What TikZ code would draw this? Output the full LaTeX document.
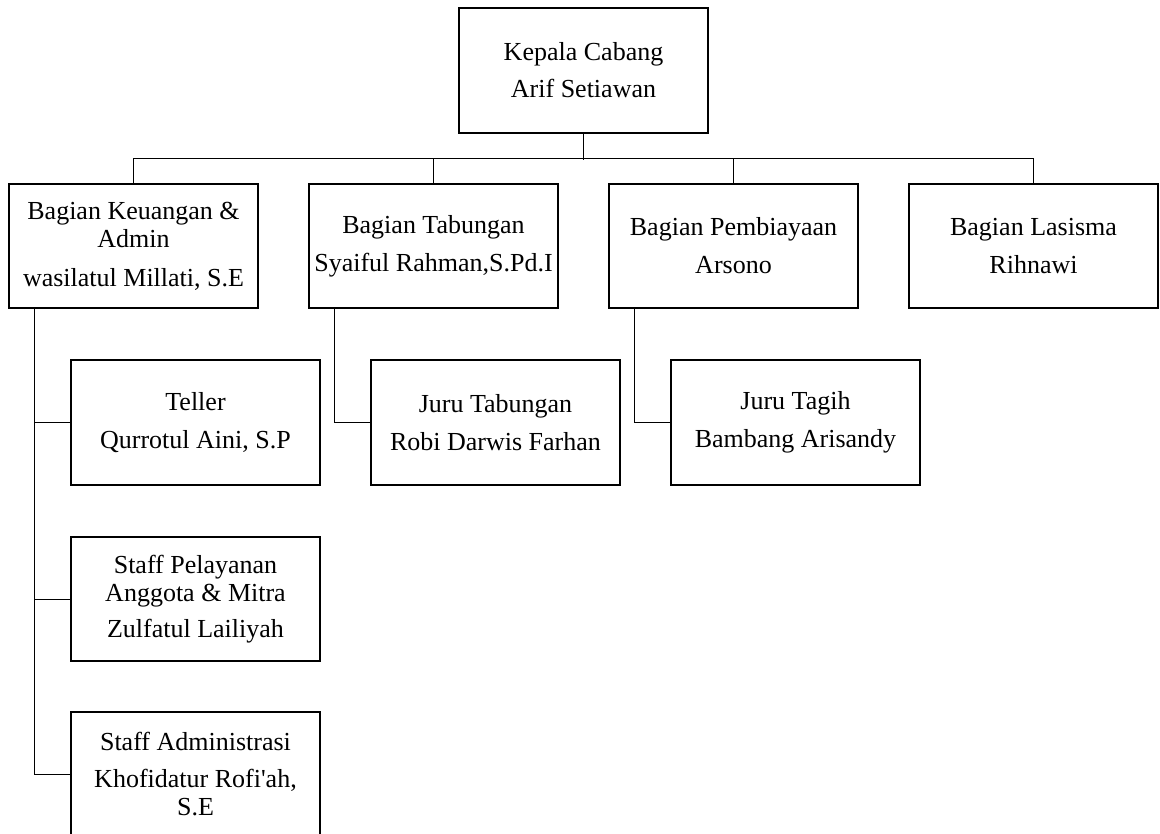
\documentclass[tikz,border=0pt]{standalone}
\usepackage{fontspec}
\setmainfont{Liberation Serif}
\usetikzlibrary{positioning}

\begin{document}
\begin{tikzpicture}[
  font=\fontsize{26}{28}\selectfont,
  box/.style={draw, line width=1.6pt, align=center, inner sep=2pt,
              minimum width=249pt, minimum height=125pt},
  conn/.style={draw, line width=1pt},
  ]
\useasboundingbox (0,0) rectangle (1160pt,-834pt);
% ---- top: kepala cabang
\node[box] (kc) at (583.5pt,-70.5pt) {Kepala Cabang\\[9pt]Arif Setiawan};
% ---- row 1: bagian
\node[box, minimum height=124pt] (keu) at (133.5pt,-246pt)
  {Bagian Keuangan \&\\Admin\\[11pt]wasilatul Millati, S.E};
\node[box, minimum height=124pt, right=49.4pt of keu] (tab)
  {Bagian Tabungan\\[10pt]Syaiful Rahman,S.Pd.I};
\node[box, minimum height=124pt, right=49.4pt of tab] (pem)
  {Bagian Pembiayaan\\[10pt]Arsono};
\node[box, minimum height=124pt, right=49.4pt of pem] (las)
  {Bagian Lasisma\\[10pt]Rihnawi};
% ---- row 2: staff
\node[box, below=50.4pt of keu, xshift=62pt] (tel)
  {Teller\\[10pt]Qurrotul Aini, S.P};
\node[box, below=50.4pt of tab, xshift=62pt] (jtab)
  {Juru Tabungan\\[10pt]Robi Darwis Farhan};
\node[box, below=50.4pt of pem, xshift=62pt] (jtag)
  {Juru Tagih\\[10pt]Bambang Arisandy};
% ---- left column
\node[box, minimum height=124pt, below=50.4pt of tel] (pel)
  {Staff Pelayanan\\Anggota \& Mitra\\[8pt]Zulfatul Lailiyah};
\node[box, below=49.4pt of pel] (adm)
  {Staff Administrasi\\[9pt]Khofidatur Rofi\textquotesingle ah,\\S.E};
% lines top -> row 1
\draw[conn] (kc.south) -- ++(0,-26pt);
\draw[conn] (keu.north) -- ++(0,25pt) -| (las.north);
\draw[conn] (tab.north) -- ++(0,25pt);
\draw[conn] (pem.north) -- ++(0,25pt);
% lines row 1 -> staff
\coordinate (kl) at ([xshift=26pt]keu.south west);
\coordinate (tl) at ([xshift=26pt]tab.south west);
\coordinate (pl) at ([xshift=26pt]pem.south west);
\draw[conn] (kl) |- (adm.west);
\draw[conn] (tel.west) -- (tel.west -| kl);
\draw[conn] (pel.west) -- (pel.west -| kl);
\draw[conn] (tl) |- (jtab.west);
\draw[conn] (pl) |- (jtag.west);
\end{tikzpicture}
\end{document}
